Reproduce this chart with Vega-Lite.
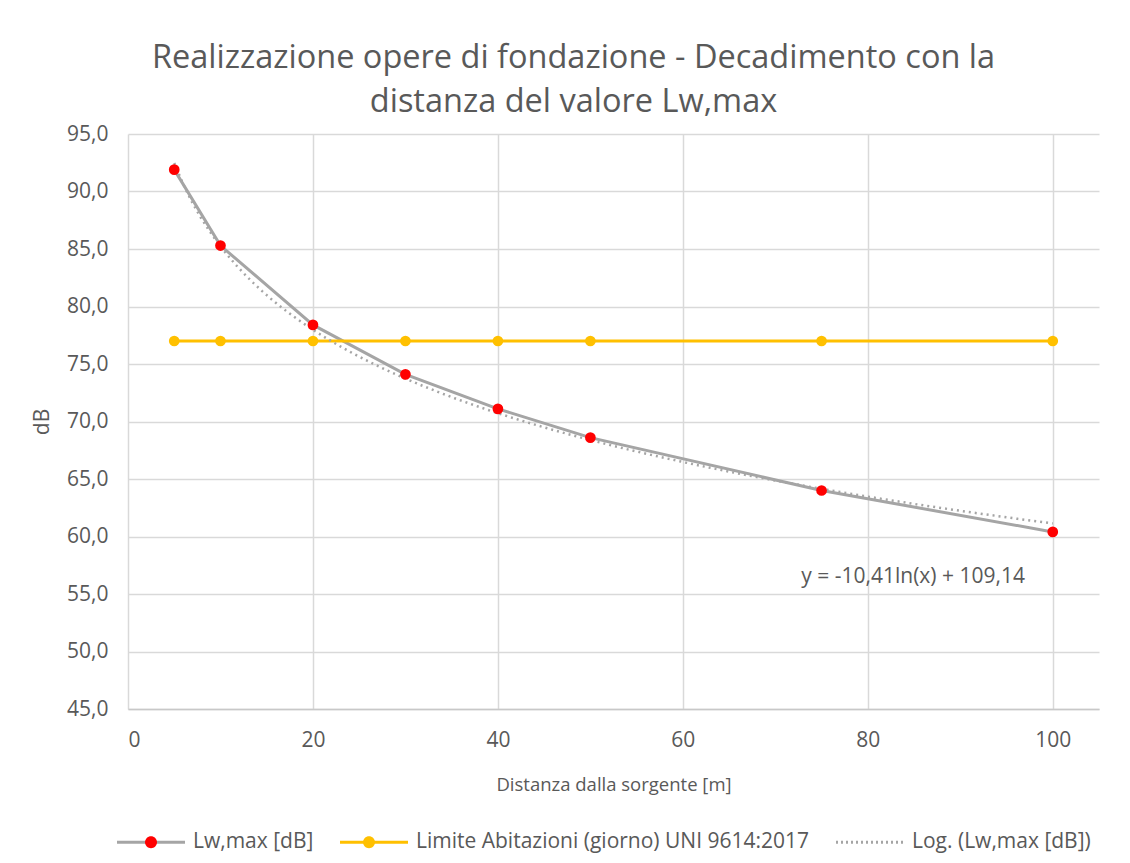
{
  "$schema": "https://vega.github.io/schema/vega-lite/v6.json",
  "width": 971,
  "height": 575,
  "autosize": "none",
  "padding": {"left": 128, "top": 134, "right": 31, "bottom": 154},
  "background": "white",
  "config": {
    "view": {"stroke": null},
    "font": "Open Sans"
  },
  "title": {
    "text": ["Realizzazione opere di fondazione - Decadimento con la", "distanza del valore Lw,max"],
    "font": "Open Sans",
    "fontSize": 32.5,
    "fontWeight": "normal",
    "color": "#595959",
    "anchor": "middle",
    "dx": -40,
    "offset": 5,
    "lineHeight": 44
  },
  "data": {
    "values": [
      {"d": 5, "v": 91.9, "s": "Lw,max [dB]"},
      {"d": 10, "v": 85.3, "s": "Lw,max [dB]"},
      {"d": 20, "v": 78.4, "s": "Lw,max [dB]"},
      {"d": 30, "v": 74.1, "s": "Lw,max [dB]"},
      {"d": 40, "v": 71.1, "s": "Lw,max [dB]"},
      {"d": 50, "v": 68.6, "s": "Lw,max [dB]"},
      {"d": 75, "v": 64.0, "s": "Lw,max [dB]"},
      {"d": 100, "v": 60.4, "s": "Lw,max [dB]"},
      {"d": 5, "v": 77.0, "s": "Limite Abitazioni (giorno) UNI 9614:2017"},
      {"d": 10, "v": 77.0, "s": "Limite Abitazioni (giorno) UNI 9614:2017"},
      {"d": 20, "v": 77.0, "s": "Limite Abitazioni (giorno) UNI 9614:2017"},
      {"d": 30, "v": 77.0, "s": "Limite Abitazioni (giorno) UNI 9614:2017"},
      {"d": 40, "v": 77.0, "s": "Limite Abitazioni (giorno) UNI 9614:2017"},
      {"d": 50, "v": 77.0, "s": "Limite Abitazioni (giorno) UNI 9614:2017"},
      {"d": 75, "v": 77.0, "s": "Limite Abitazioni (giorno) UNI 9614:2017"},
      {"d": 100, "v": 77.0, "s": "Limite Abitazioni (giorno) UNI 9614:2017"}
    ]
  },
  "layer": [
    {
      "mark": {"type": "line", "strokeWidth": 3},
      "encoding": {
        "x": {
          "field": "d",
          "type": "quantitative",
          "scale": {"domain": [0, 105], "nice": false, "zero": false},
          "axis": {
            "values": [0, 20, 40, 60, 80, 100],
            "grid": true,
            "gridColor": "#D9D9D9",
            "gridWidth": 1.5,
            "domain": true,
            "domainColor": "#C8C8C8",
            "domainWidth": 1.5,
            "ticks": false,
            "labelFont": "Open Sans",
            "labelFontSize": 21,
            "labelColor": "#595959",
            "labelPadding": 20,
            "title": "Distanza dalla sorgente [m]",
            "titleFont": "Open Sans",
            "titleFontSize": 18.5,
            "titleFontWeight": "normal",
            "titleColor": "#595959",
            "titlePadding": 25
          }
        },
        "y": {
          "field": "v",
          "type": "quantitative",
          "scale": {"domain": [45, 95], "nice": false, "zero": false},
          "axis": {
            "values": [45, 50, 55, 60, 65, 70, 75, 80, 85, 90, 95],
            "labelExpr": "replace(format(datum.value, '.1f'), '.', ',')",
            "grid": true,
            "gridColor": "#D9D9D9",
            "gridWidth": 1.5,
            "domain": false,
            "ticks": false,
            "labelFont": "Open Sans",
            "labelFontSize": 21,
            "labelColor": "#595959",
            "labelPadding": 20,
            "title": "dB",
            "titleFont": "Open Sans",
            "titleFontSize": 21,
            "titleFontWeight": "normal",
            "titleColor": "#595959",
            "titlePadding": 14
          }
        },
        "color": {
          "field": "s",
          "type": "nominal",
          "scale": {
            "domain": ["Lw,max [dB]", "Limite Abitazioni (giorno) UNI 9614:2017", "Log. (Lw,max [dB])"],
            "range": ["#A5A5A5", "#FFC000", "#A5A5A5"]
          },
          "legend": {
            "orient": "none",
            "legendX": -12.5,
            "legendY": 672.5,
            "direction": "horizontal",
            "title": null,
            "symbolType": "M-1,0L1,0",
            "symbolSize": 4624,
            "symbolStrokeWidth": 3,
            "labelFont": "Open Sans",
            "labelFontSize": 21,
            "labelColor": "#595959",
            "labelOffset": 6.5,
            "columnPadding": 20,
            "labelLimit": 600,
            "encode": {
              "symbols": {
                "update": {
                  "size": {"value": 4624},
                  "strokeDash": {"signal": "datum.value === 'Log. (Lw,max [dB])' ? [2, 3] : [1, 0]"}
                }
              }
            }
          }
        }
      }
    },
    {
      "transform": [
        {"filter": "datum.s === 'Lw,max [dB]'"},
        {"regression": "v", "on": "d", "method": "log", "extent": [5, 100]}
      ],
      "mark": {"type": "line", "strokeWidth": 2.5, "strokeDash": [2, 4]},
      "encoding": {
        "x": {"field": "d", "type": "quantitative"},
        "y": {"field": "v", "type": "quantitative"},
        "color": {"datum": "Log. (Lw,max [dB])", "type": "nominal"}
      }
    },
    {
      "mark": {"type": "point", "filled": true, "size": 115, "opacity": 1, "strokeWidth": 0},
      "encoding": {
        "x": {"field": "d", "type": "quantitative"},
        "y": {"field": "v", "type": "quantitative"},
        "fill": {
          "field": "s",
          "type": "nominal",
          "scale": {
            "domain": ["Lw,max [dB]", "Limite Abitazioni (giorno) UNI 9614:2017"],
            "range": ["#FF0000", "#FFC000"]
          },
          "legend": {
            "orient": "none",
            "legendX": -12.5,
            "legendY": 672.5,
            "direction": "horizontal",
            "title": null,
            "symbolType": "M-0.176,0A0.176,0.176,0,1,1,0.176,0A0.176,0.176,0,1,1,-0.176,0Z",
            "symbolSize": 4624,
            "symbolStrokeWidth": 3,
            "symbolStrokeColor": "transparent",
            "symbolOpacity": 1,
            "labelFont": "Open Sans",
            "labelFontSize": 21,
            "labelColor": "#595959",
            "labelOpacity": 0,
            "labelOffset": 6.5,
            "columnPadding": 20,
            "labelLimit": 600,
            "encode": {
              "symbols": {
                "update": {
                  "size": {"value": 4624}
                }
              }
            }
          }
        }
      }
    },
    {
      "data": {"values": [{"label": "y = -10,41ln(x) + 109,14"}]},
      "mark": {"type": "text", "font": "Open Sans", "fontSize": 21, "fill": "#595959", "align": "center", "baseline": "middle"},
      "encoding": {
        "x": {"datum": 84.9},
        "y": {"datum": 56.5},
        "text": {"field": "label"}
      }
    }
  ]
}
